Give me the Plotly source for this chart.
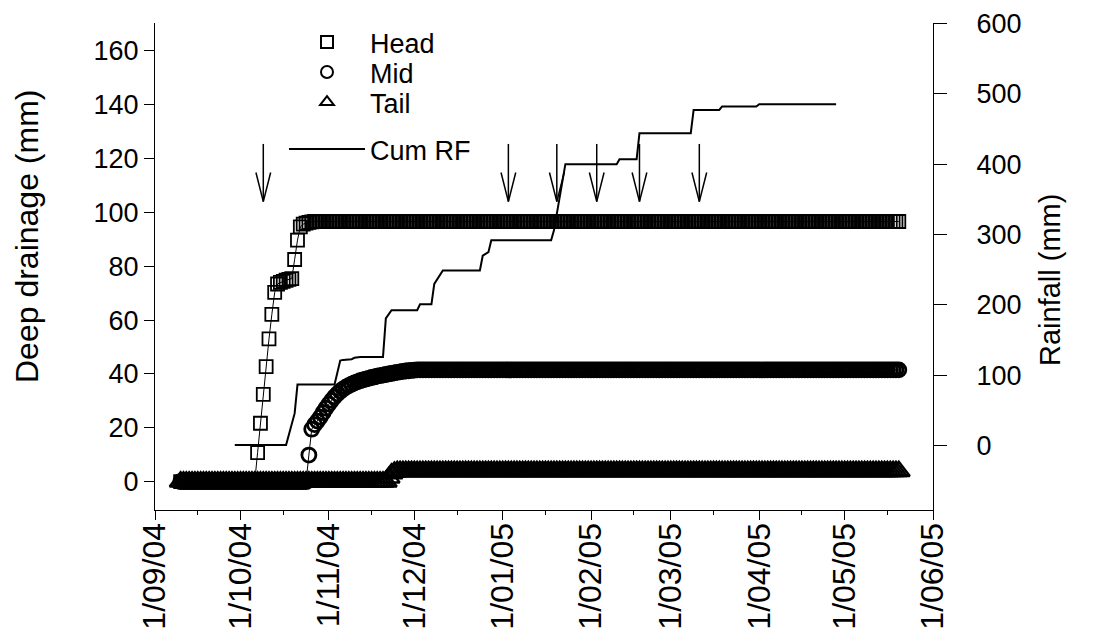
import pandas as pd
import plotly.graph_objects as go

# ---------------- data ----------------
series_start = "2004-09-10"   # first daily reading

head_dd = [
    0, 0, 0, 0, 0, 0, 0, 0, 0, 0, 0, 0, 0, 0, 0, 0, 0, 0, 0, 0, 0, 0, 0, 0, 0, 0, 0,
    10.8, 21.7, 32.4, 42.7, 53.0, 62.1, 70.3, 73.4, 74.0, 74.4, 74.8, 75.1, 75.4,
    82.5, 89.7, 94.6, 95.6, 96.0, 96.3, 96.5,
    96.6, 96.6, 96.6, 96.6, 96.6, 96.6, 96.6, 96.6, 96.6, 96.6, 96.6, 96.6, 96.6, 96.6, 96.6, 96.6, 96.6, 96.6, 96.6, 96.6,
    96.6, 96.6, 96.6, 96.6, 96.6, 96.6, 96.6, 96.6, 96.6, 96.6, 96.6, 96.6, 96.6, 96.6, 96.6, 96.6, 96.6, 96.6, 96.6, 96.6,
    96.6, 96.6, 96.6, 96.6, 96.6, 96.6, 96.6, 96.6, 96.6, 96.6, 96.6, 96.6, 96.6, 96.6, 96.6, 96.6, 96.6, 96.6, 96.6, 96.6,
    96.6, 96.6, 96.6, 96.6, 96.6, 96.6, 96.6, 96.6, 96.6, 96.6, 96.6, 96.6, 96.6, 96.6, 96.6, 96.6, 96.6, 96.6, 96.6, 96.6,
    96.6, 96.6, 96.6, 96.6, 96.6, 96.6, 96.6, 96.6, 96.6, 96.6, 96.6, 96.6, 96.6, 96.6, 96.6, 96.6, 96.6, 96.6, 96.6, 96.6,
    96.6, 96.6, 96.6, 96.6, 96.6, 96.6, 96.6, 96.6, 96.6, 96.6, 96.6, 96.6, 96.6, 96.6, 96.6, 96.6, 96.6, 96.6, 96.6, 96.6,
    96.6, 96.6, 96.6, 96.6, 96.6, 96.6, 96.6, 96.6, 96.6, 96.6, 96.6, 96.6, 96.6, 96.6, 96.6, 96.6, 96.6, 96.6, 96.6, 96.6,
    96.6, 96.6, 96.6, 96.6, 96.6, 96.6, 96.6, 96.6, 96.6, 96.6, 96.6, 96.6, 96.6, 96.6, 96.6, 96.6, 96.6, 96.6, 96.6, 96.6,
    96.6, 96.6, 96.6, 96.6, 96.6, 96.6, 96.6, 96.6, 96.6, 96.6, 96.6, 96.6, 96.6, 96.6, 96.6, 96.6, 96.6, 96.6, 96.6, 96.6,
    96.6, 96.6, 96.6, 96.6, 96.6, 96.6, 96.6, 96.6, 96.6, 96.6, 96.6, 96.6, 96.6, 96.6, 96.6, 96.6, 96.6, 96.6, 96.6, 96.6,
    96.6, 96.6, 96.6, 96.6, 96.6, 96.6,
]

mid_dd = [
    0, 0, 0, 0, 0, 0, 0, 0, 0, 0, 0, 0, 0, 0, 0, 0, 0, 0, 0, 0, 0, 0, 0, 0, 0, 0, 0, 0, 0, 0,
    0, 0, 0, 0, 0, 0, 0, 0, 0, 0, 0, 0, 0, 0, 0,
    9.9, 19.5, 21.2, 22.5, 24.0, 25.7, 27.3, 28.8, 30.2, 31.5, 32.6, 33.6, 34.4, 35.1, 35.7,
    36.2, 36.7, 37.1, 37.5, 37.8, 38.1, 38.4, 38.7, 38.9, 39.2, 39.4, 39.6, 39.8, 40.0, 40.2,
    40.4, 40.6, 40.8, 41.0, 41.1, 41.2, 41.3, 41.4,
    41.5, 41.5, 41.5, 41.5, 41.5, 41.5, 41.5, 41.5, 41.5, 41.5, 41.5, 41.5, 41.5, 41.5, 41.5, 41.5, 41.5, 41.5, 41.5, 41.5,
    41.5, 41.5, 41.5, 41.5, 41.5, 41.5, 41.5, 41.5, 41.5, 41.5, 41.5, 41.5, 41.5, 41.5, 41.5, 41.5, 41.5, 41.5, 41.5, 41.5,
    41.5, 41.5, 41.5, 41.5, 41.5, 41.5, 41.5, 41.5, 41.5, 41.5, 41.5, 41.5, 41.5, 41.5, 41.5, 41.5, 41.5, 41.5, 41.5, 41.5,
    41.5, 41.5, 41.5, 41.5, 41.5, 41.5, 41.5, 41.5, 41.5, 41.5, 41.5, 41.5, 41.5, 41.5, 41.5, 41.5, 41.5, 41.5, 41.5, 41.5,
    41.5, 41.5, 41.5, 41.5, 41.5, 41.5, 41.5, 41.5, 41.5, 41.5, 41.5, 41.5, 41.5, 41.5, 41.5, 41.5, 41.5, 41.5, 41.5, 41.5,
    41.5, 41.5, 41.5, 41.5, 41.5, 41.5, 41.5, 41.5, 41.5, 41.5, 41.5, 41.5, 41.5, 41.5, 41.5, 41.5, 41.5, 41.5, 41.5, 41.5,
    41.5, 41.5, 41.5, 41.5, 41.5, 41.5, 41.5, 41.5, 41.5, 41.5, 41.5, 41.5, 41.5, 41.5, 41.5, 41.5, 41.5, 41.5, 41.5, 41.5,
    41.5, 41.5, 41.5, 41.5, 41.5, 41.5, 41.5, 41.5, 41.5, 41.5, 41.5, 41.5, 41.5, 41.5, 41.5, 41.5, 41.5, 41.5, 41.5, 41.5,
    41.5, 41.5, 41.5, 41.5, 41.5, 41.5, 41.5, 41.5, 41.5, 41.5,
]

tail_dd = [
    0, 0, 0, 0, 0, 0, 0, 0, 0, 0, 0, 0, 0, 0, 0, 0, 0, 0, 0, 0, 0, 0, 0, 0, 0, 0, 0, 0, 0, 0,
    0, 0, 0, 0, 0, 0, 0, 0, 0, 0, 0, 0, 0, 0, 0, 0, 0, 0, 0, 0, 0, 0, 0, 0, 0, 0, 0, 0, 0, 0,
    0, 0, 0, 0, 0, 0, 0, 0, 0, 0, 0, 0, 0,
    1.5, 3.0, 3.6,
    3.9, 3.9, 3.9, 3.9, 3.9, 3.9, 3.9, 3.9, 3.9, 3.9, 3.9, 3.9, 3.9, 3.9, 3.9, 3.9, 3.9, 3.9, 3.9, 3.9,
    3.9, 3.9, 3.9, 3.9, 3.9, 3.9, 3.9, 3.9, 3.9, 3.9, 3.9, 3.9, 3.9, 3.9, 3.9, 3.9, 3.9, 3.9, 3.9, 3.9,
    3.9, 3.9, 3.9, 3.9, 3.9, 3.9, 3.9, 3.9, 3.9, 3.9, 3.9, 3.9, 3.9, 3.9, 3.9, 3.9, 3.9, 3.9, 3.9, 3.9,
    3.9, 3.9, 3.9, 3.9, 3.9, 3.9, 3.9, 3.9, 3.9, 3.9, 3.9, 3.9, 3.9, 3.9, 3.9, 3.9, 3.9, 3.9, 3.9, 3.9,
    3.9, 3.9, 3.9, 3.9, 3.9, 3.9, 3.9, 3.9, 3.9, 3.9, 3.9, 3.9, 3.9, 3.9, 3.9, 3.9, 3.9, 3.9, 3.9, 3.9,
    3.9, 3.9, 3.9, 3.9, 3.9, 3.9, 3.9, 3.9, 3.9, 3.9, 3.9, 3.9, 3.9, 3.9, 3.9, 3.9, 3.9, 3.9, 3.9, 3.9,
    3.9, 3.9, 3.9, 3.9, 3.9, 3.9, 3.9, 3.9, 3.9, 3.9, 3.9, 3.9, 3.9, 3.9, 3.9, 3.9, 3.9, 3.9, 3.9, 3.9,
    3.9, 3.9, 3.9, 3.9, 3.9, 3.9, 3.9, 3.9, 3.9, 3.9, 3.9, 3.9, 3.9, 3.9, 3.9, 3.9, 3.9, 3.9, 3.9, 3.9,
    3.9, 3.9, 3.9, 3.9, 3.9, 3.9, 3.9, 3.9, 3.9, 3.9, 3.9, 3.9, 3.9, 3.9, 3.9, 3.9, 3.9,
]

# cumulative rainfall (right axis), vertices of the line
rf_dates = [
    "2004-09-29", "2004-10-17", "2004-10-20", "2004-10-21", "2004-11-03", "2004-11-05",
    "2004-11-06", "2004-11-09", "2004-11-10", "2004-11-12", "2004-11-20", "2004-11-21",
    "2004-11-23", "2004-12-02", "2004-12-03", "2004-12-07", "2004-12-08", "2004-12-11",
    "2004-12-24", "2004-12-25", "2004-12-27", "2004-12-28", "2005-01-18", "2005-01-19",
    "2005-01-23", "2005-02-10", "2005-02-11", "2005-02-17", "2005-02-18", "2005-03-08",
    "2005-03-09", "2005-03-18", "2005-03-19", "2005-03-31", "2005-04-01", "2005-04-28",
]
rf_mm = [
    1, 1, 46, 87, 87, 121,
    122, 123, 125, 126, 126, 181,
    192.5, 192.5, 201, 201, 230, 249,
    249, 270, 275, 292, 292, 306,
    400, 400, 407, 407, 444, 444,
    477, 477, 482, 482, 485, 485,
]

# irrigation events (arrows)
irrigation_dates = ["2004-10-09", "2005-01-03", "2005-01-20", "2005-02-03", "2005-02-18", "2005-03-11"]

# axis ticks
left_ticks = [0, 20, 40, 60, 80, 100, 120, 140, 160]
right_ticks = [0, 100, 200, 300, 400, 500, 600]

# ---------------- figure ----------------
FONT = "Liberation Sans, Arial, sans-serif"
OFF = 8                      # page body margin
W, H = 1094 - 2 * OFF, 637 - 2 * OFF
# plot area in page pixels
P_L, P_R, P_T, P_B = 155, 933, 23, 510
L, T = P_L - OFF, P_T - OFF
R, B = W - (P_R - OFF), H - (P_B - OFF)
pw, ph = P_R - P_L, P_B - P_T
Y2_RANGE = [-91.2, 600.5]


def px_x(px):
    return (px - P_L) / pw


def px_y(py):
    return (P_B - py) / ph


fig = go.Figure()


def add_series(name, values, symbol, size, lw, legend):
    x = pd.date_range(series_start, periods=len(values), freq="D")
    fig.add_trace(go.Scatter(x=x, y=values, mode="lines", line=dict(color="black", width=1),
                             showlegend=False, hoverinfo="skip"))
    fig.add_trace(go.Scatter(x=x, y=values, mode="markers", name=name, legend=legend,
                             marker=dict(symbol=symbol, size=size, color="black",
                                         line=dict(color="black", width=lw))))


add_series("Head", head_dd, "square-open", 13, 1.8, "legend")
add_series("Mid", mid_dd, "circle-open", 14, 2.8, "legend2")
add_series("Tail", tail_dd, "triangle-up-open", 19, 2.4, "legend3")

fig.add_trace(go.Scatter(x=rf_dates, y=rf_mm, mode="lines", name="Cum RF", yaxis="y2",
                         legend="legend4", line=dict(color="black", width=2)))
# same series, invisibly, on the axis that carries the right-hand tick labels
fig.add_trace(go.Scatter(x=rf_dates, y=rf_mm, mode="lines", yaxis="y3", showlegend=False,
                         hoverinfo="skip", line=dict(color="rgba(0,0,0,0)", width=0)))

# arrows (open V heads) built from irrigation dates
ARROW_TOP, ARROW_TIP, HEAD_LEN = 125.4, 104.0, 10.8
HALF_W = pd.Timedelta(hours=62)
ax, ay = [], []
for d in irrigation_dates:
    t = pd.Timestamp(d)
    f = lambda v: v.strftime("%Y-%m-%d %H:%M")
    ax += [f(t), f(t), None, f(t - HALF_W), f(t), f(t + HALF_W), None]
    ay += [ARROW_TOP, ARROW_TIP, None, ARROW_TIP + HEAD_LEN, ARROW_TIP, ARROW_TIP + HEAD_LEN, None]
fig.add_trace(go.Scatter(x=ax, y=ay, mode="lines", line=dict(color="black", width=1.5),
                         showlegend=False, hoverinfo="skip"))

# axis titles as annotations (positioned like the reference)
fig.add_annotation(text="Deep drainage (mm)", textangle=-90, showarrow=False,
                   xref="paper", yref="paper", x=px_x(27), y=px_y(237),
                   xanchor="center", yanchor="middle", font=dict(family=FONT, size=32, color="black"))
fig.add_annotation(text="Rainfall (mm)", textangle=-90, showarrow=False,
                   xref="paper", yref="paper", x=px_x(1050), y=px_y(280),
                   xanchor="center", yanchor="middle", font=dict(family=FONT, size=29, color="black"))

# one legend per entry so the vertical spacing can follow the reference
LEG_X = 284
ITEM_W = 76


def leg(center_y, constant=True):
    d = dict(x=px_x(LEG_X), y=px_y(center_y - 25), xanchor="left", yanchor="top",
             bgcolor="rgba(0,0,0,0)", itemwidth=ITEM_W, font=dict(size=27))
    if constant:
        d["itemsizing"] = "constant"
    return d


fig.update_layout(
    width=W, height=H,
    margin=dict(l=L, r=R, t=T, b=B, pad=0, autoexpand=False),
    paper_bgcolor="white", plot_bgcolor="white",
    font=dict(family=FONT, size=27, color="black"),
    showlegend=True,
    legend=leg(43), legend2=leg(73), legend3=leg(103), legend4=leg(150, constant=False),
    xaxis=dict(type="date", range=["2004-09-01", "2005-06-01"],
               tickmode="linear", tick0="2004-09-01", dtick="M1", tickformat="%-d/%m/%y",
               tickangle=-90, ticks="outside", ticklen=9, tickwidth=1.2, tickcolor="black",
               showline=True, linecolor="black", linewidth=1.2, showgrid=False, zeroline=False,
               tickfont=dict(size=32), automargin=False, ticklabelstandoff=-10,
               minor=dict(ticks="outside", ticklen=4, tickcolor="black", dtick="M1",
                          tick0="2004-09-16", showgrid=False)),
    yaxis=dict(range=[-10.5, 170.3], tickmode="array", tickvals=left_ticks,
               ticks="outside", ticklen=10, tickwidth=1.2, tickcolor="black",
               showline=True, linecolor="black", linewidth=1.2, showgrid=False, zeroline=False,
               tickfont=dict(size=27), automargin=False),
    # right axis: line + short ticks
    yaxis2=dict(range=Y2_RANGE, tickmode="array", tickvals=right_ticks, overlaying="y",
                side="right", anchor="x", ticks="outside", ticklen=13, tickwidth=1.2,
                tickcolor="black", showticklabels=False,
                showline=True, linecolor="black", linewidth=1.2, showgrid=False, zeroline=False,
                automargin=False),
    # right axis labels, set further out like the reference
    yaxis3=dict(range=Y2_RANGE, tickmode="array", tickvals=right_ticks, overlaying="y",
                side="right", anchor="x", ticks="outside", ticklen=37, tickwidth=1,
                tickcolor="rgba(0,0,0,0)", showline=False, showgrid=False, zeroline=False,
                tickfont=dict(size=27), automargin=False),
)

fig.write_html("out.html")
